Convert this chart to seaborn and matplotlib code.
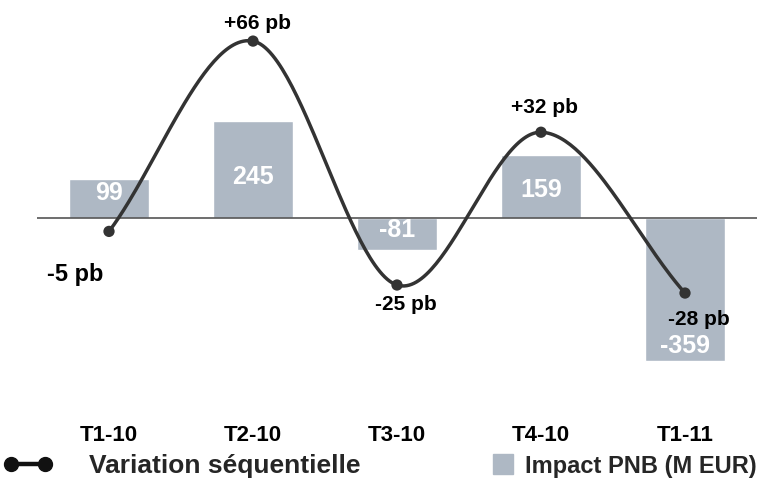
import numpy as np
import pandas as pd
import matplotlib
matplotlib.use("Agg")
import matplotlib.pyplot as plt
import seaborn as sns
from matplotlib.lines import Line2D

# ---- data ----
categories = ["T1-10", "T2-10", "T3-10", "T4-10", "T1-11"]
impact_pnb = [99, 245, -81, 159, -359]
impact_labels = ["99", "245", "-81", "159", "-359"]
variation_pb = [-5, 66, -25, 32, -28]
variation_labels = ["-5 pb", "+66 pb", "-25 pb", "+32 pb", "-28 pb"]
legend_labels = ["Variation séquentielle", "Impact PNB (M EUR)"]

# ---- style ----
BAR = "#AEB8C4"
LINE = "#333333"
ZERO = "#555555"
label_frac = [0.63, 0.42, 0.37, 0.44, 0.90]          # where the value sits inside each bar
pt_offsets = [(-24, -31), (3.6, 13), (6.5, -13.7), (2.2, 18), (10, -19.4)]
pt_sizes = [17, 15, 15, 15, 15]

sns.set_theme(style="white")
plt.rcParams["font.family"] = ["Liberation Sans", "DejaVu Sans"]
plt.rcParams["font.weight"] = "bold"

W, H = 767, 488
fig = plt.figure(figsize=(W / 100, H / 100), dpi=100)
ax = fig.add_axes([37 / W, 1 - 400 / H, 720 / W, 390 / H])

df = pd.DataFrame({"cat": categories, "val": impact_pnb})
sns.barplot(data=df, x="cat", y="val", color=BAR, saturation=1, width=0.556,
            ax=ax, zorder=2)
ax.set_xlim(-0.5, 4.5)
ax.set_ylim(-458.4, 523.9)
ax.axhline(0, color=ZERO, lw=1.2, zorder=3)
ax.set_xlabel("")
ax.set_ylabel("")
ax.set_yticks([])
ax.set_xticks(range(len(categories)))
ax.set_xticklabels(categories, fontsize=16, fontweight="bold", color="black")
ax.tick_params(axis="x", length=0, pad=18)
for s in ax.spines.values():
    s.set_visible(False)

for i, (v, lab, f) in enumerate(zip(impact_pnb, impact_labels, label_frac)):
    ax.text(i, v * f, lab, ha="center", va="center", color="white",
            fontsize=18, fontweight="bold", zorder=4)

# ---- line on secondary axis ----
ax2 = ax.twinx()
ax2.set_ylim(-67.9, 77.6)
ax2.set_yticks([])
for s in ax2.spines.values():
    s.set_visible(False)

xs = np.arange(len(variation_pb), dtype=float)
ys = np.asarray(variation_pb, dtype=float)
# Catmull-Rom smoothing (like a spreadsheet "smoothed line")
px = np.concatenate([[2 * xs[0] - xs[1]], xs, [2 * xs[-1] - xs[-2]]])
py = np.concatenate([[2 * ys[0] - ys[1]], ys, [2 * ys[-1] - ys[-2]]])
cx, cy = [], []
t = np.linspace(0, 1, 60)
h00 = 2 * t**3 - 3 * t**2 + 1
h10 = t**3 - 2 * t**2 + t
h01 = -2 * t**3 + 3 * t**2
h11 = t**3 - t**2
for k in range(1, len(px) - 2):
    m0x, m0y = (px[k + 1] - px[k - 1]) / 2, (py[k + 1] - py[k - 1]) / 2
    m1x, m1y = (px[k + 2] - px[k]) / 2, (py[k + 2] - py[k]) / 2
    cx.append(h00 * px[k] + h10 * m0x + h01 * px[k + 1] + h11 * m1x)
    cy.append(h00 * py[k] + h10 * m0y + h01 * py[k + 1] + h11 * m1y)
cx = np.concatenate(cx)
cy = np.concatenate(cy)
ax2.plot(cx, cy, color=LINE, lw=2.5, solid_capstyle="round", zorder=5)
sns.scatterplot(x=xs, y=ys, color=LINE, s=66, edgecolor="none", ax=ax2, zorder=6)
ax2.set_xlim(-0.5, 4.5)

for i, (v, lab, off, fs) in enumerate(zip(variation_pb, variation_labels, pt_offsets, pt_sizes)):
    ax2.annotate(lab, xy=(i, v), xytext=off, textcoords="offset points",
                 ha="center", va="center", fontsize=fs, fontweight="bold",
                 color="black", zorder=7)

# ---- legends ----
h1 = Line2D([], [], color="#111111", lw=3.2, marker="o", ms=10)
fig.legend(handles=[h1], labels=[legend_labels[0]], loc="center left",
           bbox_to_anchor=(3 / W, 1 - 466 / H), frameon=False, borderpad=0,
           borderaxespad=0, handlelength=1.9, handletextpad=1.35, numpoints=2,
           prop={"size": 19, "weight": "bold"})
h2 = Line2D([], [], ls="none", marker="s", ms=14, color=BAR)
fig.legend(handles=[h2], labels=[legend_labels[1]], loc="center left",
           bbox_to_anchor=(493 / W, 1 - 466 / H), frameon=False, borderpad=0,
           borderaxespad=0, handlelength=0.85, handletextpad=0.5, numpoints=1,
           prop={"size": 17, "weight": "bold"})

fig.savefig("out.png", dpi=100, facecolor="white")
